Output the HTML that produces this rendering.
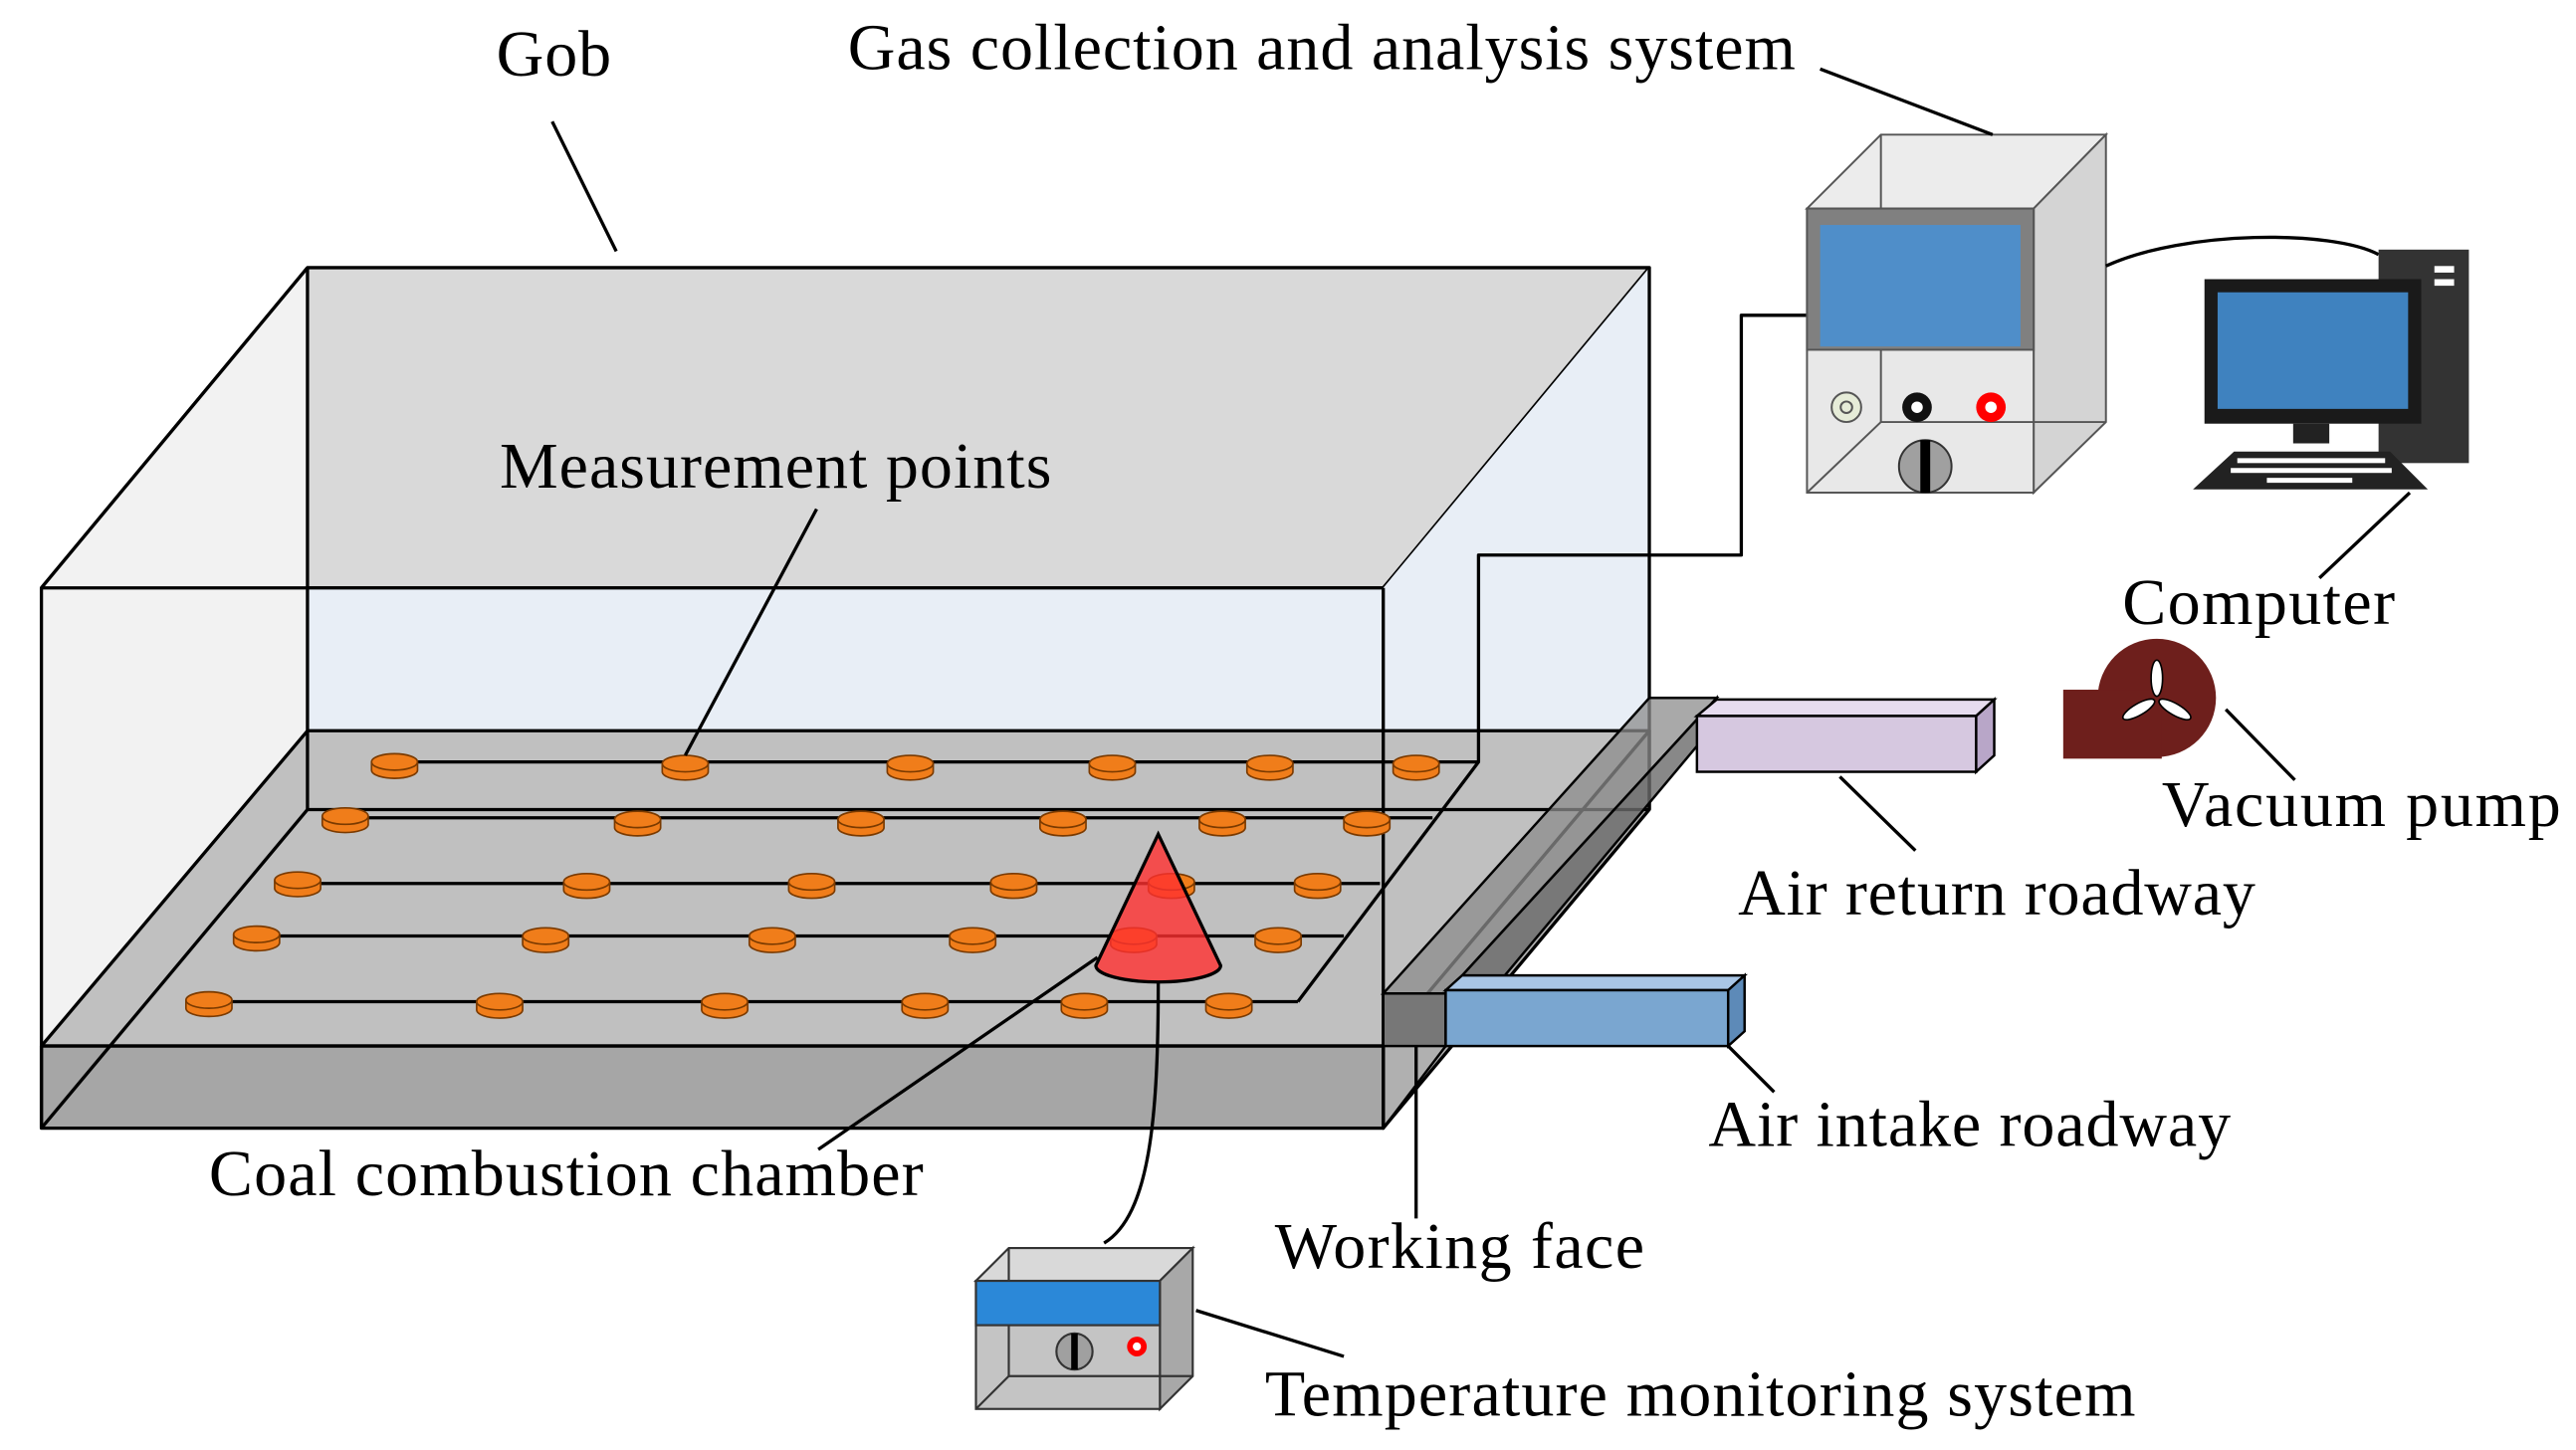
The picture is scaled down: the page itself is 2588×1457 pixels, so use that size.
<!DOCTYPE html>
<html><head><meta charset="utf-8"><style>html,body{margin:0;padding:0;background:#fff}svg{display:block}</style></head>
<body>
<svg width="2588" height="1457" viewBox="0 0 1568 883" xmlns="http://www.w3.org/2000/svg" font-family="'Liberation Serif', serif" font-size="40">
<rect width="1568" height="883" fill="#fff"/>
<g stroke="#000" stroke-width="2" stroke-linejoin="round">
<polygon points="187,163 1004,163 842,358 25,358" fill="#d9d9d9"/>
<polygon points="25,358 187,163 187,445 25,637" fill="#f2f2f2" stroke="none"/>
<rect x="187" y="358" width="655" height="87" fill="#e8eef6" stroke="none"/>
<polygon points="842,358 1004,163 1004,445 842,637" fill="#e8eef6" stroke="none"/>
<line x1="25" y1="358" x2="187" y2="163"/>
<polygon points="187,445 1004,445 842,637 25,637" fill="#c0c0c0"/>
<polygon points="842,637 1004,445 1004,493 842,687" fill="#b0b0b0"/>
<rect x="25" y="637" width="817" height="50" fill="#a6a6a6"/>
<line x1="187" y1="493" x2="1004" y2="493"/>
<line x1="25" y1="687" x2="187" y2="493"/>
<line x1="187" y1="163" x2="187" y2="493" />
<line x1="1004" y1="163" x2="1004" y2="493"/>
<polyline points="25,358 25,687" fill="none"/>
<line x1="842" y1="358" x2="842" y2="687"/>
<line x1="25" y1="358" x2="842" y2="358"/>
<polyline points="790,610 900,464 900,338 1060,338 1060,192 1100,192" fill="none"/>
<line x1="240" y1="464" x2="900" y2="464"/>
<line x1="210" y1="498" x2="872" y2="498"/>
<line x1="181" y1="538" x2="840" y2="538"/>
<line x1="156" y1="570" x2="818" y2="570"/>
<line x1="127" y1="610" x2="790" y2="610"/>
</g>
<g fill="#f07d1a" stroke="#7a3a00" stroke-width="1">
<path d="M226,464v5a14,5 0 0 0 28,0v-5" /><ellipse cx="240" cy="464" rx="14" ry="5"/>
<path d="M403,465v5a14,5 0 0 0 28,0v-5" /><ellipse cx="417" cy="465" rx="14" ry="5"/>
<path d="M540,465v5a14,5 0 0 0 28,0v-5" /><ellipse cx="554" cy="465" rx="14" ry="5"/>
<path d="M663,465v5a14,5 0 0 0 28,0v-5" /><ellipse cx="677" cy="465" rx="14" ry="5"/>
<path d="M759,465v5a14,5 0 0 0 28,0v-5" /><ellipse cx="773" cy="465" rx="14" ry="5"/>
<path d="M848,465v5a14,5 0 0 0 28,0v-5" /><ellipse cx="862" cy="465" rx="14" ry="5"/>
<path d="M196,497v5a14,5 0 0 0 28,0v-5" /><ellipse cx="210" cy="497" rx="14" ry="5"/>
<path d="M374,499v5a14,5 0 0 0 28,0v-5" /><ellipse cx="388" cy="499" rx="14" ry="5"/>
<path d="M510,499v5a14,5 0 0 0 28,0v-5" /><ellipse cx="524" cy="499" rx="14" ry="5"/>
<path d="M633,499v5a14,5 0 0 0 28,0v-5" /><ellipse cx="647" cy="499" rx="14" ry="5"/>
<path d="M730,499v5a14,5 0 0 0 28,0v-5" /><ellipse cx="744" cy="499" rx="14" ry="5"/>
<path d="M818,499v5a14,5 0 0 0 28,0v-5" /><ellipse cx="832" cy="499" rx="14" ry="5"/>
<path d="M167,536v5a14,5 0 0 0 28,0v-5" /><ellipse cx="181" cy="536" rx="14" ry="5"/>
<path d="M343,537v5a14,5 0 0 0 28,0v-5" /><ellipse cx="357" cy="537" rx="14" ry="5"/>
<path d="M480,537v5a14,5 0 0 0 28,0v-5" /><ellipse cx="494" cy="537" rx="14" ry="5"/>
<path d="M603,537v5a14,5 0 0 0 28,0v-5" /><ellipse cx="617" cy="537" rx="14" ry="5"/>
<path d="M699,537v5a14,5 0 0 0 28,0v-5" /><ellipse cx="713" cy="537" rx="14" ry="5"/>
<path d="M788,537v5a14,5 0 0 0 28,0v-5" /><ellipse cx="802" cy="537" rx="14" ry="5"/>
<path d="M142,569v5a14,5 0 0 0 28,0v-5" /><ellipse cx="156" cy="569" rx="14" ry="5"/>
<path d="M318,570v5a14,5 0 0 0 28,0v-5" /><ellipse cx="332" cy="570" rx="14" ry="5"/>
<path d="M456,570v5a14,5 0 0 0 28,0v-5" /><ellipse cx="470" cy="570" rx="14" ry="5"/>
<path d="M578,570v5a14,5 0 0 0 28,0v-5" /><ellipse cx="592" cy="570" rx="14" ry="5"/>
<path d="M676,570v5a14,5 0 0 0 28,0v-5" /><ellipse cx="690" cy="570" rx="14" ry="5"/>
<path d="M764,570v5a14,5 0 0 0 28,0v-5" /><ellipse cx="778" cy="570" rx="14" ry="5"/>
<path d="M113,609v5a14,5 0 0 0 28,0v-5" /><ellipse cx="127" cy="609" rx="14" ry="5"/>
<path d="M290,610v5a14,5 0 0 0 28,0v-5" /><ellipse cx="304" cy="610" rx="14" ry="5"/>
<path d="M427,610v5a14,5 0 0 0 28,0v-5" /><ellipse cx="441" cy="610" rx="14" ry="5"/>
<path d="M549,610v5a14,5 0 0 0 28,0v-5" /><ellipse cx="563" cy="610" rx="14" ry="5"/>
<path d="M646,610v5a14,5 0 0 0 28,0v-5" /><ellipse cx="660" cy="610" rx="14" ry="5"/>
<path d="M734,610v5a14,5 0 0 0 28,0v-5" /><ellipse cx="748" cy="610" rx="14" ry="5"/>
</g>
<path d="M705,508 L667,588 A38,10 0 0 0 743,588 Z" fill="#ff3030" fill-opacity="0.8" stroke="#000" stroke-width="2"/>
<g stroke="#000" stroke-width="1.5">
<polygon points="842,605 1004,425 1045,425 880,605" fill="#8c8c8c" fill-opacity="0.75"/>
<polygon points="880,605 1045,425 1045,440 880,637" fill="#6a6a6a" fill-opacity="0.8"/>
<rect x="842" y="605" width="38" height="32" fill="#777"/>
<line x1="842" y1="687" x2="880" y2="637"/>
<polygon points="1033,436 1045,426 1214,426 1203,436" fill="#e6dcef"/>
<rect x="1033" y="436" width="170" height="34" fill="#d6c8e0"/>
<polygon points="1203,436 1214,426 1214,460 1203,470" fill="#b8a6c8"/>
<polygon points="880,603 890,594 1062,594 1052,603" fill="#a9c6e6"/>
<rect x="880" y="603" width="172" height="34" fill="#7aa6d0"/>
<polygon points="1052,603 1062,594 1062,628 1052,637" fill="#5d8ab8"/>
</g>
<g stroke="#555" stroke-width="1.2">
<polygon points="1100,127 1145,82 1282,82 1238,127" fill="#ececec"/>
<polygon points="1238,127 1282,82 1282,257 1238,300" fill="#d4d4d4"/>
<rect x="1100" y="127" width="138" height="173" fill="#e8e8e8"/>
<line x1="1145" y1="82" x2="1145" y2="257"/><line x1="1145" y1="257" x2="1282" y2="257"/><line x1="1100" y1="300" x2="1145" y2="257"/>
<rect x="1100" y="127" width="138" height="86" fill="#808080"/>
<rect x="1108" y="137" width="122" height="74" fill="#4f8ec9" stroke="none"/>
<circle cx="1124" cy="248" r="9" fill="#e6ecd8"/><circle cx="1124" cy="248" r="3.5" fill="none"/>
<circle cx="1167" cy="248" r="9" fill="#111" stroke="none"/><circle cx="1167" cy="248" r="3.5" fill="#fff" stroke="none"/>
<circle cx="1212" cy="248" r="9" fill="#f00" stroke="none"/><circle cx="1212" cy="248" r="3.5" fill="#fff" stroke="none"/>
<circle cx="1172" cy="284" r="16" fill="#a0a0a0" stroke="#333"/>
<rect x="1169" y="268" width="6" height="32" fill="#000" stroke="none"/>
</g>
<path d="M1282,162 C1330,140 1420,140 1448,155" fill="none" stroke="#000" stroke-width="2"/>
<rect x="1448" y="152" width="55" height="130" fill="#333"/>
<rect x="1482" y="162" width="12" height="4" fill="#fff"/><rect x="1482" y="170" width="12" height="4" fill="#fff"/>
<rect x="1342" y="170" width="132" height="88" fill="#1a1a1a"/>
<rect x="1350" y="178" width="116" height="71" fill="#3f82bf"/>
<rect x="1396" y="258" width="22" height="12" fill="#222"/>
<polygon points="1360,275 1455,275 1478,298 1335,298" fill="#222"/>
<g fill="#fff"><rect x="1362" y="279" width="90" height="3"/><rect x="1358" y="285" width="98" height="3"/><rect x="1380" y="291" width="52" height="3"/></g>
<g fill="#6e1f1c"><circle cx="1313" cy="425" r="36"/><rect x="1256" y="420" width="60" height="42"/></g>
<g fill="#fff" stroke="#000" stroke-width="1"><ellipse cx="1313" cy="413" rx="3.5" ry="11"/><ellipse cx="1302" cy="432" rx="3.5" ry="11" transform="rotate(60 1302 432)"/><ellipse cx="1324" cy="432" rx="3.5" ry="11" transform="rotate(-60 1324 432)"/></g>
<g stroke="#333" stroke-width="1.3">
<polygon points="594,780 614,760 726,760 706,780" fill="#d9d9d9"/>
<polygon points="706,780 726,760 726,838 706,858" fill="#a8a8a8"/>
<rect x="594" y="780" width="112" height="78" fill="#c4c4c4"/>
<line x1="614" y1="760" x2="614" y2="838"/><line x1="614" y1="838" x2="726" y2="838"/><line x1="594" y1="858" x2="614" y2="838"/>
<rect x="594" y="780" width="112" height="27" fill="#2b88d8"/>
<circle cx="654" cy="823" r="11" fill="#a0a0a0"/><rect x="652" y="812" width="4" height="22" fill="#000" stroke="none"/>
<circle cx="692" cy="820" r="6" fill="#f00" stroke="none"/><circle cx="692" cy="820" r="2.5" fill="#fff" stroke="none"/>
</g>
<g stroke="#000" stroke-width="2" fill="none">
<line x1="336" y1="74" x2="375" y2="153"/>
<line x1="1108" y1="42" x2="1213" y2="82"/>
<line x1="497" y1="310" x2="417" y2="460"/>
<line x1="1412" y1="352" x2="1467" y2="300"/>
<line x1="1355" y1="432" x2="1397" y2="475"/>
<line x1="1120" y1="473" x2="1166" y2="518"/>
<line x1="1052" y1="637" x2="1080" y2="665"/>
<line x1="862" y1="637" x2="862" y2="742"/>
<line x1="668" y1="583" x2="498" y2="700"/>
<line x1="728" y1="798" x2="818" y2="826"/>
<path d="M705,598 C705,680 700,740 672,757"/>
</g>
<g fill="#000">
<text x="302" y="46" textLength="70">Gob</text>
<text x="516" y="42" textLength="577">Gas collection and analysis system</text>
<text x="304" y="297" textLength="336">Measurement points</text>
<text x="1292" y="380" textLength="166">Computer</text>
<text x="1316" y="503" textLength="243">Vacuum pump</text>
<text x="1058" y="557" textLength="315">Air return roadway</text>
<text x="1040" y="698" textLength="318">Air intake roadway</text>
<text x="776" y="772" textLength="225">Working face</text>
<text x="127" y="728" textLength="435">Coal combustion chamber</text>
<text x="770" y="862" textLength="530">Temperature monitoring system</text>
</g>
</svg>
</body></html>
